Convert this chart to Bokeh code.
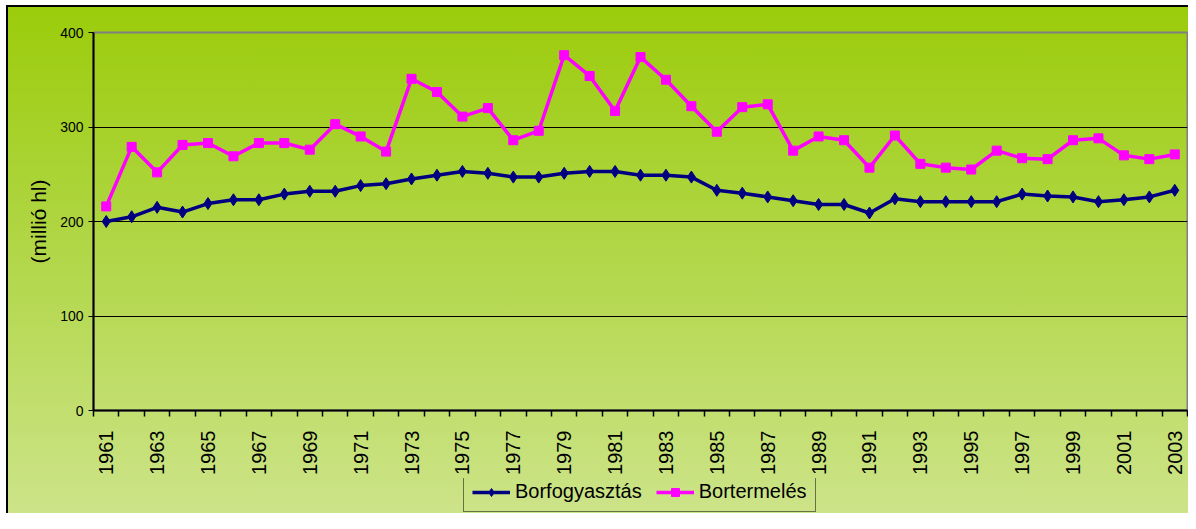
import math
from bokeh.plotting import figure
from bokeh.layouts import column
from bokeh.models import FixedTicker, Legend, LegendItem, Range1d
from bokeh.embed import file_html
from bokeh.resources import INLINE

years = list(range(1961, 2004))
consumption = [200, 205, 215, 210, 219, 223, 223, 229, 232, 232,
               238, 240, 245, 249, 253, 251, 247, 247, 251, 253,
               253, 249, 249, 247, 233, 230, 226, 222, 218, 218,
               209, 224, 221, 221, 221, 221, 229, 227, 226, 221,
               223, 226, 233]
production = [216, 279, 252, 281, 283, 269, 283, 283, 276, 303,
              290, 274, 351, 337, 311, 320, 286, 296, 376, 354,
              317, 374, 350, 322, 295, 321, 324, 275, 290, 286,
              257, 291, 261, 257, 255, 275, 267, 266, 286, 288,
              270, 266, 271]
series_names = ["Borfogyasztás", "Bortermelés"]
series_colors = ["#000080", "#FF00FF"]
y_ticks = [0, 100, 200, 300, 400]
grid_values = [100, 200, 300]
x_label_years = list(range(1961, 2004, 2))
y_axis_title = "(millió hl)"

FONT = "Liberation Sans"
W = 1188

p = figure(width=W, height=478, output_backend="svg", toolbar_location=None,
           x_range=Range1d(years[0] - 0.5, years[-1] + 0.5),
           y_range=Range1d(0, 400),
           min_border_left=93, min_border_right=1, min_border_top=32,
           min_border_bottom=68)

p.background_fill_alpha = 0
p.border_fill_alpha = 0
p.outline_line_color = "#808080"
p.outline_line_width = 2

# y axis
p.yaxis.ticker = FixedTicker(ticks=y_ticks)
p.yaxis.axis_label = y_axis_title
p.yaxis.axis_label_text_font = FONT
p.yaxis.axis_label_text_font_style = "normal"
p.yaxis.axis_label_text_font_size = "21px"
p.yaxis.axis_label_text_color = "#000000"
p.yaxis.axis_label_standoff = 7
p.yaxis.major_label_text_font = FONT
p.yaxis.major_label_text_font_size = "14px"
p.yaxis.major_label_text_color = "#000000"
p.yaxis.major_label_standoff = 5
p.yaxis.axis_line_color = "#000000"
p.yaxis.axis_line_width = 2
p.yaxis.major_tick_out = 5
p.yaxis.major_tick_in = 0
p.yaxis.major_tick_line_color = "#000000"
p.yaxis.minor_tick_line_color = None

# x axis
p.xaxis.ticker = FixedTicker(ticks=x_label_years,
                             minor_ticks=[y - 0.5 for y in years] + [years[-1] + 0.5])
p.xaxis.major_label_orientation = math.pi / 2
p.xaxis.major_label_text_font = FONT
p.xaxis.major_label_text_font_size = "20px"
p.xaxis.major_label_text_color = "#000000"
p.xaxis.major_label_standoff = 14
p.xaxis.major_tick_out = 6
p.xaxis.major_tick_in = 0
p.xaxis.major_tick_line_color = None
p.xaxis.minor_tick_out = 6
p.xaxis.minor_tick_in = 0
p.xaxis.minor_tick_line_color = "#000000"
p.xaxis.minor_tick_line_width = 1.5
p.xaxis.axis_line_color = "#000000"
p.xaxis.axis_line_width = 2

# grid
p.xgrid.visible = False
p.ygrid.ticker = FixedTicker(ticks=grid_values)
p.ygrid.grid_line_color = "#000000"
p.ygrid.grid_line_width = 1.2

p.line(years, consumption, line_color=series_colors[0], line_width=3.5)
p.scatter(years, consumption, marker="diamond", size=12,
          fill_color=series_colors[0], line_color=series_colors[0])
p.line(years, production, line_color=series_colors[1], line_width=3.5)
p.scatter(years, production, marker="square", size=9,
          fill_color=series_colors[1], line_color=series_colors[1])

# legend strip below the chart (its own frame, so the legend is not clipped)
lg = figure(width=W, height=35, output_backend="svg", toolbar_location=None,
            x_range=Range1d(0, 1), y_range=Range1d(0, 1),
            x_axis_location=None, y_axis_location=None, min_border=0)
lg.background_fill_alpha = 0
lg.border_fill_alpha = 0
lg.outline_line_color = None
lg.grid.visible = False
off = [-10]
r1l = lg.line(off, off, line_color=series_colors[0], line_width=3.5)
r1m = lg.scatter(off, off, marker="diamond", size=12,
                 fill_color=series_colors[0], line_color=series_colors[0])
r2l = lg.line(off, off, line_color=series_colors[1], line_width=3.5)
r2m = lg.scatter(off, off, marker="square", size=9,
                 fill_color=series_colors[1], line_color=series_colors[1])

legend = Legend(items=[LegendItem(label=series_names[0], renderers=[r1l, r1m]),
                       LegendItem(label=series_names[1], renderers=[r2l, r2m])],
                orientation="horizontal", location=(370, 1))
legend.label_text_font = FONT
legend.label_text_font_size = "20px"
legend.label_text_color = "#000000"
legend.glyph_width = 38
legend.glyph_height = 20
legend.label_standoff = 5
legend.spacing = 14
legend.padding = 8
legend.margin = 0
legend.border_line_color = "#000000"
legend.border_line_width = 1.5
legend.background_fill_alpha = 0
lg.add_layout(legend, "center")

layout = column(p, lg, spacing=0)
layout.styles = {
    "background": ("linear-gradient(#000000, #000000) 6px 5px / 100% 2px no-repeat, "
                   "linear-gradient(#000000, #000000) 6px 5px / 2px 100% no-repeat, "
                   "linear-gradient(to bottom, #9BCC0A 0%, #B2D74A 50%, #CDE48A 100%) 6px 5px / 100% 100% no-repeat, "
                   "#ffffff"),
}

open("out.html", "w").write(file_html(layout, INLINE))
